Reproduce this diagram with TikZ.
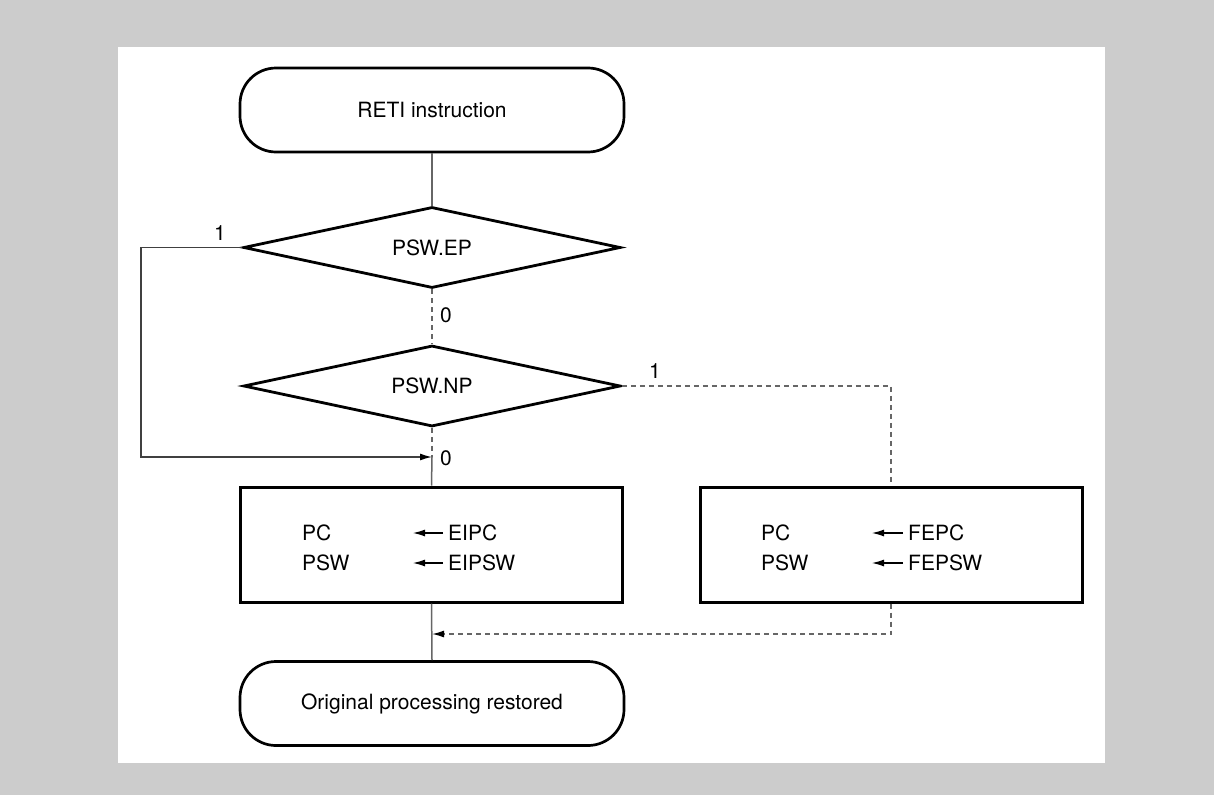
\documentclass[tikz,border=0pt]{standalone}
\usepackage{fontspec}
\setmainfont{TeX Gyre Heros}
\usetikzlibrary{shapes.geometric,arrows.meta}
\begin{document}
\begin{tikzpicture}[x=1pt,y=-1pt,
  font=\fontsize{21}{25}\selectfont,
  terminal/.style={draw, line width=2.7pt, rounded corners=36pt, minimum width=384pt, minimum height=84pt, inner sep=0pt},
  decision/.style={draw, diamond, line width=2.8pt, aspect=4.65, minimum width=377pt, minimum height=81pt, inner sep=0pt},
  procbox/.style={draw, line width=3pt, minimum width=382pt, minimum height=115pt, inner sep=0pt},
  conn/.style={draw=black!60, line width=1.5pt},
  loopconn/.style={draw=black!75, line width=1.4pt},
  dconn/.style={draw=black!60, line width=1.5pt, dash pattern=on 5pt off 4pt},
  lbl/.style={inner sep=0pt},
  tip/.style={-{Latex[length=12pt,width=7pt,color=black]}},
  asg/.style={-{Latex[length=12pt,width=7pt]}, line width=1.1pt, shorten <=5pt}]
\fill[black!20] (0,0) rectangle (1214,795);
\fill[white] (118,47) rectangle (1105,763);
\useasboundingbox (0,0) rectangle (1214,795);

\node[terminal] (start) at (432,110) {RETI instruction};
\node[decision] (d1) at (432,247.5) {PSW.EP};
\node[decision] (d2) at (432,386) {PSW.NP};
\node[procbox] (b1) at (431.5,544.5) {};
\node[procbox] (b2) at (891,544.5) {};
\node[terminal] (end) at (432,703.5) {Original processing restored};

% box texts
\node[lbl, anchor=west] (pc1) at (302,533) {PC};
\node[lbl, anchor=west] (psw1) at (302,563) {PSW};
\node[lbl, anchor=west] (eipc) at (448,533) {EIPC};
\node[lbl, anchor=west] (eipsw) at (448,563) {EIPSW};
\coordinate (a1) at (413,533);
\coordinate (a2) at (413,563);
\draw[asg] (eipc.west) -- (a1);
\draw[asg] (eipsw.west) -- (a2);

\node[lbl, anchor=west] (pc2) at (761,533) {PC};
\node[lbl, anchor=west] (psw2) at (761,563) {PSW};
\node[lbl, anchor=west] (fepc) at (908,533) {FEPC};
\node[lbl, anchor=west] (fepsw) at (908,563) {FEPSW};
\coordinate (a3) at (872,533);
\coordinate (a4) at (872,563);
\draw[asg] (fepc.west) -- (a3);
\draw[asg] (fepsw.west) -- (a4);

% connectors
\coordinate (m1) at (432,457);
\coordinate (lc1) at (141,247.5);
\coordinate (lc2) at (141,457);
\coordinate (rc1) at (891,386);
\coordinate (m2) at (432,634);
\coordinate (rc2) at (891,634);

\draw[conn] (start.south) -- (d1.north);
\draw[dconn] (d1.south) -- (d2.north);
\draw[dconn] (d2.south) -- (m1);
\draw[conn] (m1) -- (b1.north);
\draw[loopconn, tip] (d1.west) -- (lc1) -- (lc2) -- (m1);
\draw[dconn] (d2.east) -- (rc1) -- (b2.north);
\draw[conn] (b1.south) -- (end.north);
\draw[dconn, tip] (b2.south) -- (rc2) -- (m2);

% labels
\node[lbl] (l1a) at (220,233) {1};
\node[lbl, anchor=west] (l0a) at (440,315) {0};
\node[lbl] (l1b) at (655,371) {1};
\node[lbl, anchor=west] (l0b) at (440,458) {0};
\end{tikzpicture}
\end{document}
